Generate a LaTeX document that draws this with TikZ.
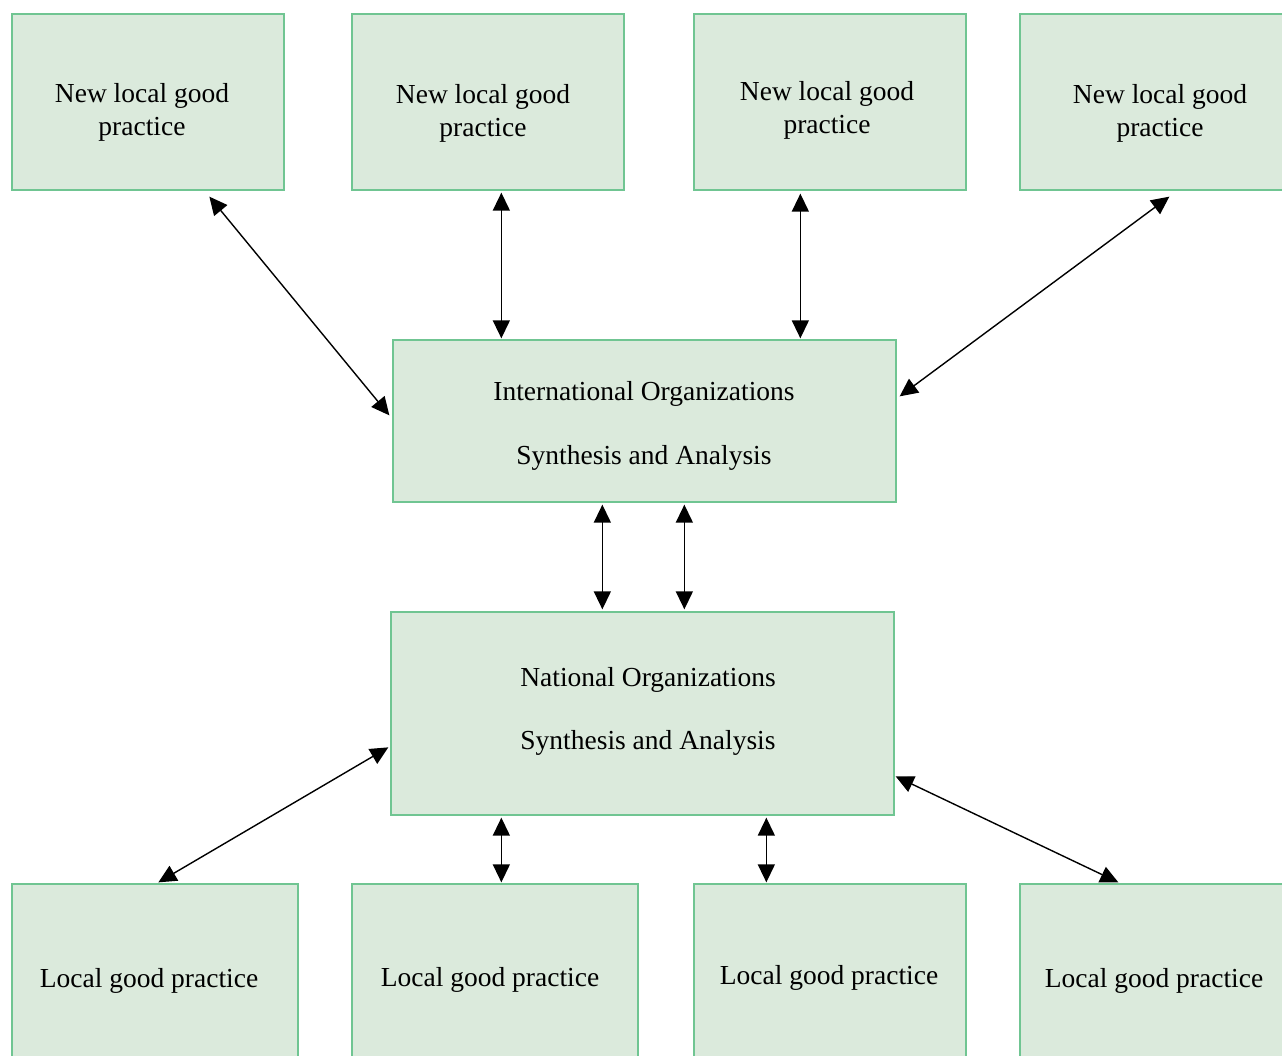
\documentclass[tikz,border=0pt]{standalone}
\usepackage{fontspec}
\setmainfont{Liberation Serif}
\usetikzlibrary{arrows.meta,calc}
\definecolor{boxfill}{RGB}{219,234,220}
\definecolor{boxline}{RGB}{112,197,146}
\begin{document}
\begin{tikzpicture}[x=1pt,y=-1pt,
  box/.style={draw=boxline,fill=boxfill,line width=1.3pt,rectangle,inner sep=0pt,minimum width=#1},
  box/.default=272pt,
  lbl/.style={inner sep=0pt,align=center,font=\fontsize{27.5pt}{33pt}\selectfont,text=black},
  link/.style={line width=1.4pt,{Triangle[length=18pt,width=17pt]}-{Triangle[length=18pt,width=17pt]}}]
\path[use as bounding box,clip] (0,0) rectangle (1282,1056);
% top row
\node[box,minimum height=176pt] (t1) at (148,102) {};
\node[box,minimum height=176pt] (t2) at (488,102) {};
\node[box,minimum height=176pt] (t3) at (830,102) {};
\node[box,minimum height=176pt] (t4) at (1156,102) {};
\node[lbl,anchor=north] (t1t) at (142,83.6) {New local good\\practice};
\node[lbl,anchor=north] (t2t) at (483,84.6) {New local good\\practice};
\node[lbl,anchor=north] (t3t) at (827,81.6) {New local good\\practice};
\node[lbl,anchor=north] (t4t) at (1160,84.6) {New local good\\practice};
% middle
\node[box=503pt,minimum height=162pt] (intl) at (644.5,421) {};
\node[lbl,anchor=north] (intlt) at (644,381.6) {International Organizations\\[31pt]Synthesis and Analysis};
\node[box=503pt,minimum height=203pt] (nat) at (642.5,713.5) {};
\node[lbl,anchor=north] (natt) at (648,667.6) {National Organizations\\[30pt]Synthesis and Analysis};
% bottom row
\node[box=286pt,minimum height=182pt] (b1) at (155,975) {};
\node[box=286pt,minimum height=182pt] (b2) at (495,975) {};
\node[box,minimum height=182pt] (b3) at (830,975) {};
\node[box,minimum height=182pt] (b4) at (1156,975) {};
\node[lbl,anchor=base] (b1t) at (149,987) {Local good practice};
\node[lbl,anchor=base] (b2t) at (490,986) {Local good practice};
\node[lbl,anchor=base] (b3t) at (829,984) {Local good practice};
\node[lbl,anchor=base] (b4t) at (1154,987) {Local good practice};
% connectors
\draw[link] ([shift={(198,6)}]t1.south west) -- ([shift={(-3,76)}]intl.north west);
\draw[link] ([shift={(150,2)}]t2.south west) -- ([shift={(109,-1)}]intl.north west);
\draw[link] ([shift={(107,3)}]t3.south west) -- ([shift={(408,-1)}]intl.north west);
\draw[link] ([shift={(150,6)}]t4.south west) -- ([shift={(3,57)}]intl.north east);
\draw[link] ([shift={(210,2)}]intl.south west) -- ([shift={(212,-2)}]nat.north west);
\draw[link] ([shift={(292,2)}]intl.south west) -- ([shift={(294,-2)}]nat.north west);
\draw[link] ([shift={(-2,136)}]nat.north west) -- ([shift={(147,-1)}]b1.north west);
\draw[link] ([shift={(111,2)}]nat.south west) -- ([shift={(150,-1)}]b2.north west);
\draw[link] ([shift={(376,2)}]nat.south west) -- ([shift={(73,-1)}]b3.north west);
\draw[link] ([shift={(1,165)}]nat.north east) -- ([shift={(99,-1)}]b4.north west);
\end{tikzpicture}
\end{document}
